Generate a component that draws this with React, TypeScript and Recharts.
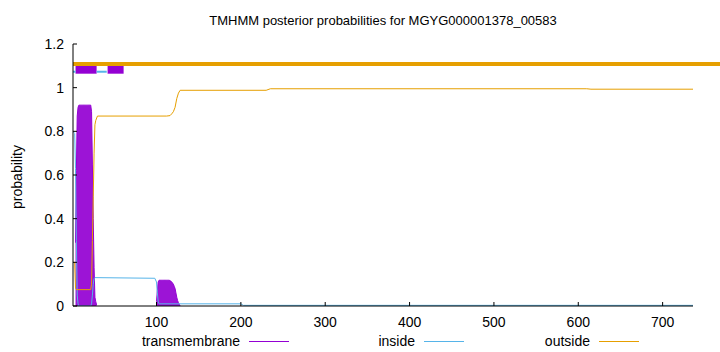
import React from 'react';
import { ComposedChart, Line, Area, XAxis, YAxis, ReferenceLine, ReferenceArea } from 'recharts';

const TITLE = 'TMHMM posterior probabilities for MGYG000001378_00583';
const Y_LABEL = 'probability';
const SEQ_START = 1;
const SEQ_END = 736;
const xTicks = [100, 200, 300, 400, 500, 600, 700];
const yTicks = [0, 0.2, 0.4, 0.6, 0.8, 1, 1.2];

// posterior probability of "inside"
const insideRes = [1, 3, 4, 5, 6, 7, 8, 22, 23, 24, 25, 26, 27, 98, 100, 101, 102, 103, 200, 203, 736];
const insideProb = [0.8, 0.79, 0.63, 0.3, 0.05, 0.01, 0, 0, 0.01, 0.05, 0.1, 0.125, 0.13, 0.127, 0.11, 0.06, 0.02, 0.01, 0.01, 0.003, 0.003];

// posterior probability of "outside"
const outsideRes = [1, 3, 4, 5, 22, 23, 24, 25, 26, 27, 28, 30, 112, 116, 118, 120, 122, 124, 126, 128, 230, 235, 610, 615, 736];
const outsideProb = [0.2, 0.2, 0.08, 0.075, 0.075, 0.1, 0.3, 0.5, 0.7, 0.83, 0.85, 0.87, 0.87, 0.872, 0.88, 0.89, 0.91, 0.95, 0.975, 0.988, 0.988, 0.995, 0.995, 0.993, 0.993];

// posterior probability of "transmembrane" (impulses)
const tmRes = [
  4, 5, 6, 7, 8, 9, 10, 11, 12, 13, 14, 15, 16, 17, 18, 19, 20, 21, 22, 23, 24, 25, 26, 27, 28, 29,
  100, 101, 102, 103, 104, 105, 106, 107, 108, 109, 110, 111, 112, 113, 114, 115, 116, 117, 118, 119, 120, 121, 122, 123, 124, 125, 126, 127, 128,
];
const tmProb = [
  0.29, 0.62, 0.87, 0.91, 0.92, 0.92, 0.92, 0.92, 0.92, 0.92, 0.92, 0.92, 0.92, 0.92, 0.92, 0.92, 0.92, 0.92, 0.92, 0.89, 0.65, 0.4, 0.175, 0.04, 0.02, 0.005,
  0.02, 0.07, 0.11, 0.118, 0.118, 0.118, 0.118, 0.118, 0.118, 0.118, 0.118, 0.118, 0.118, 0.118, 0.118, 0.118, 0.116, 0.114, 0.11, 0.105, 0.1, 0.09, 0.08, 0.06, 0.04, 0.025, 0.015, 0.008, 0.002,
];

// predicted topology drawn above the plot
const topoOutsideSpan = [1, 800];
const topoOutsideLevel = 1.108;
const topoInsideSpans = [[1, 4], [29, 41]];
const topoInsideLevel = 1.073;
const topoTmSpans = [[4, 29, 1.064, 1.113], [42, 61, 1.064, 1.1]];

const C_TM = '#9400d3';
const C_IN = '#56b4e9';
const C_OUT = '#e69f00';
const FONT = '"Liberation Sans", Arial, sans-serif';
const FS = 14;

type Row = { x: number; inside?: number; outside?: number; tm?: number };

function buildRows(): Row[] {
  const m = new Map<number, Row>();
  const get = (x: number) => {
    if (!m.has(x)) m.set(x, { x });
    return m.get(x)!;
  };
  insideRes.forEach((x, i) => (get(x).inside = insideProb[i]));
  outsideRes.forEach((x, i) => (get(x).outside = outsideProb[i]));
  tmRes.forEach((x, i) => (get(x).tm = tmProb[i]));
  return Array.from(m.values()).sort((a, b) => a.x - b.x);
}

const rows = buildRows();

const EmptyTick = () => <g />;

export default function App() {
  return (
    <div style={{ position: 'absolute', left: 0, top: 0, width: 720, height: 352, background: '#fff', fontFamily: FONT }}>
      <ComposedChart
        width={720}
        height={352}
        data={rows}
        margin={{ top: 44, right: 27, bottom: 0, left: 0 }}
      >
        <XAxis
          xAxisId="b"
          dataKey="x"
          type="number"
          domain={[SEQ_START, SEQ_END]}
          allowDataOverflow
          ticks={xTicks}
          height={46}
          tickSize={-4}
          tickMargin={15}
          axisLine={{ stroke: '#000', strokeWidth: 1 }}
          tickLine={{ stroke: '#000' }}
          tick={{ fill: '#000', fontSize: FS, fontFamily: FONT }}
        />
        <XAxis
          xAxisId="t"
          orientation="top"
          dataKey="x"
          type="number"
          domain={[SEQ_START, SEQ_END]}
          allowDataOverflow
          ticks={xTicks}
          height={0}
          tickSize={-4}
          axisLine={{ stroke: '#000', strokeWidth: 1 }}
          tickLine={{ stroke: '#000' }}
          tick={EmptyTick}
        />
        <YAxis
          yAxisId="l"
          type="number"
          domain={[0, 1.2]}
          allowDataOverflow
          ticks={yTicks}
          width={73}
          tickSize={-4}
          tickMargin={13}
          axisLine={{ stroke: '#000', strokeWidth: 1 }}
          tickLine={{ stroke: '#000' }}
          tick={{ fill: '#000', fontSize: FS, fontFamily: FONT }}
        />
        <YAxis
          yAxisId="r"
          orientation="right"
          type="number"
          domain={[0, 1.2]}
          allowDataOverflow
          ticks={yTicks}
          width={0}
          tickSize={-4}
          axisLine={{ stroke: '#000', strokeWidth: 1 }}
          tickLine={{ stroke: '#000' }}
          tick={EmptyTick}
        />
        <Area
          xAxisId="b"
          yAxisId="l"
          type="linear"
          dataKey="tm"
          fill={C_TM}
          fillOpacity={0.92}
          stroke={C_TM}
          strokeWidth={1}
          baseValue={0}
          isAnimationActive={false}
        />
        <Line
          xAxisId="b"
          yAxisId="l"
          type="linear"
          dataKey="inside"
          stroke={C_IN}
          strokeWidth={1}
          dot={false}
          connectNulls
          isAnimationActive={false}
        />
        <Line
          xAxisId="b"
          yAxisId="l"
          type="linear"
          dataKey="outside"
          stroke={C_OUT}
          strokeWidth={1}
          dot={false}
          connectNulls
          isAnimationActive={false}
        />
        <ReferenceLine
          xAxisId="b"
          yAxisId="l"
          segment={[
            { x: topoOutsideSpan[0], y: topoOutsideLevel },
            { x: topoOutsideSpan[1], y: topoOutsideLevel },
          ]}
          stroke={C_OUT}
          strokeWidth={4}
          ifOverflow="visible"
        />
        {topoInsideSpans.map((s, i) => (
          <ReferenceLine
            key={'in' + i}
            xAxisId="b"
            yAxisId="l"
            segment={[
              { x: s[0], y: topoInsideLevel },
              { x: s[1], y: topoInsideLevel },
            ]}
            stroke={C_IN}
            strokeWidth={2}
            ifOverflow="visible"
          />
        ))}
        {topoTmSpans.map((s, i) => (
          <ReferenceArea
            key={'tm' + i}
            xAxisId="b"
            yAxisId="l"
            x1={s[0]}
            x2={s[1]}
            y1={s[2]}
            y2={s[3]}
            fill={C_TM}
            fillOpacity={1}
            stroke="none"
            ifOverflow="visible"
          />
        ))}
      </ComposedChart>

      <div style={{ position: 'absolute', left: 0, width: 766, top: 13, textAlign: 'center', fontSize: 13, lineHeight: '16px', color: '#000' }}>
        {TITLE}
      </div>
      <div
        style={{
          position: 'absolute',
          left: 17 - 100,
          top: 177 - 8,
          width: 200,
          textAlign: 'center',
          fontSize: FS,
          lineHeight: '16px',
          transform: 'rotate(-90deg)',
          color: '#000',
        }}
      >
        {Y_LABEL}
      </div>
      {[
        { name: 'transmembrane', color: C_TM, right: 240, l1: 249 },
        { name: 'inside', color: C_IN, right: 415, l1: 424 },
        { name: 'outside', color: C_OUT, right: 590, l1: 599 },
      ].map((e) => (
        <React.Fragment key={e.name}>
          <div style={{ position: 'absolute', left: e.right - 200, width: 200, top: 333, textAlign: 'right', fontSize: FS, lineHeight: '16px', color: '#000' }}>
            {e.name}
          </div>
          <div style={{ position: 'absolute', left: e.l1, width: 40, top: 341, height: 1, background: e.color }} />
        </React.Fragment>
      ))}
    </div>
  );
}
